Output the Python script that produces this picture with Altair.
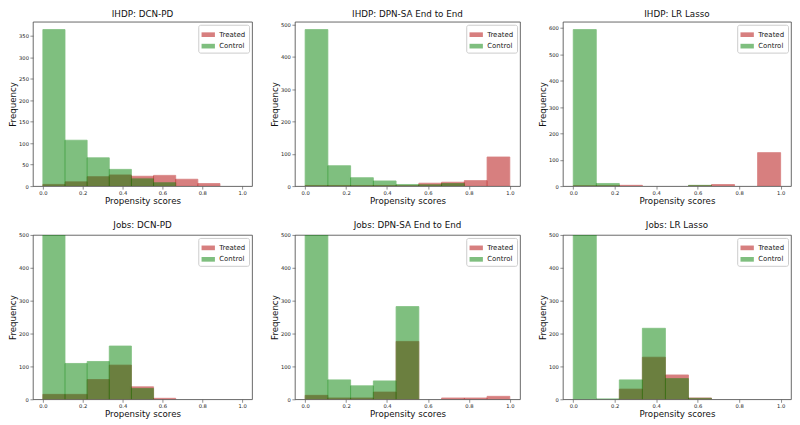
import altair as alt
import pandas as pd

# Histogram bin edges (9 bins on [0, 1])
BIN_EDGES = [0.0, 0.1111, 0.2222, 0.3333, 0.4444, 0.5556, 0.6667, 0.7778, 0.8889, 1.0]
GROUPS = ["Treated", "Control"]
X_TICKS = [0.0, 0.2, 0.4, 0.6, 0.8, 1.0]

# IHDP panels
ihdp_dcn_trt = [4, 10, 22, 26, 23, 25, 16, 6, 0]
ihdp_dcn_ctrl = [365, 107, 66, 39, 17, 8, 0, 0, 0]
ihdp_dpn_trt = [2, 2, 2, 2, 1, 9, 12, 17, 90]
ihdp_dpn_ctrl = [484, 63, 26, 16, 5, 4, 8, 0, 0]
ihdp_lr_trt = [1, 1, 3, 0, 0, 1, 6, 0, 127]
ihdp_lr_ctrl = [594, 10, 0, 0, 0, 3, 0, 0, 0]

# Jobs panels (y axis clipped at 500)
jobs_dcn_trt = [15, 15, 60, 104, 38, 3, 0, 0, 0]
jobs_dcn_ctrl = [1200, 109, 115, 162, 33, 0, 0, 0, 0]
jobs_dpn_trt = [12, 4, 4, 22, 176, 0, 4, 4, 9]
jobs_dpn_ctrl = [1200, 59, 41, 56, 282, 0, 0, 0, 0]
jobs_lr_trt = [0, 0, 31, 128, 74, 4, 0, 0, 0]
jobs_lr_ctrl = [1500, 1, 59, 216, 63, 3, 0, 0, 0]

# y tick labels
yt_ihdp_dcn = [0, 50, 100, 150, 200, 250, 300, 350]
yt_ihdp_dpn = [0, 100, 200, 300, 400, 500]
yt_ihdp_lr = [0, 100, 200, 300, 400, 500, 600]
yt_jobs = [0, 100, 200, 300, 400, 500]

color_scale = alt.Scale(domain=GROUPS, range=["#b00000", "#008000"])


def panel(title, trt, ctrl, ymax, yticks, width, height=165):
    rows = []
    for grp, vals in (("Treated", trt), ("Control", ctrl)):
        for i, v in enumerate(vals):
            if v > 0:
                rows.append({"group": grp, "x0": BIN_EDGES[i], "x1": BIN_EDGES[i + 1],
                             "count": v, "base": 0})
    df = pd.DataFrame(rows)
    base = alt.Chart(df).mark_rect(opacity=0.5, strokeWidth=0.8, clip=True).encode(
        x=alt.X("x0:Q", scale=alt.Scale(domain=[-0.05, 1.05], nice=False, zero=False),
                axis=alt.Axis(values=X_TICKS, format=".1f", title="Propensity scores")),
        x2="x1:Q",
        y=alt.Y("count:Q", scale=alt.Scale(domain=[0, ymax], nice=False),
                axis=alt.Axis(values=yticks, title="Frequency", minExtent=14, maxExtent=14)),
        y2="base:Q",
        color=alt.Color("group:N", scale=color_scale, legend=alt.Legend(title=None)),
        stroke=alt.Stroke("group:N", scale=color_scale, legend=None),
    )
    t = base.transform_filter(alt.datum.group == "Treated")
    c = base.transform_filter(alt.datum.group == "Control")
    return alt.layer(t, c).properties(width=width, height=height, title=title)


def ind(ch):
    return ch.resolve_scale(color="independent", stroke="independent").resolve_legend(color="independent")


p1 = panel("IHDP: DCN-PD", ihdp_dcn_trt, ihdp_dcn_ctrl, 365 * 1.05, yt_ihdp_dcn, 220)
p2 = panel("IHDP: DPN-SA End to End", ihdp_dpn_trt, ihdp_dpn_ctrl, 484 * 1.05, yt_ihdp_dpn, 226)
p3 = panel("IHDP: LR Lasso", ihdp_lr_trt, ihdp_lr_ctrl, 594 * 1.05, yt_ihdp_lr, 229)
p4 = panel("Jobs: DCN-PD", jobs_dcn_trt, jobs_dcn_ctrl, 500, yt_jobs, 220)
p5 = panel("Jobs: DPN-SA End to End", jobs_dpn_trt, jobs_dpn_ctrl, 500, yt_jobs, 226)
p6 = panel("Jobs: LR Lasso", jobs_lr_trt, jobs_lr_ctrl, 500, yt_jobs, 229)

row1 = ind(alt.hconcat(p1, p2, p3, spacing=17))
row2 = ind(alt.hconcat(p4, p5, p6, spacing=17))

chart = ind(alt.vconcat(row1, row2, spacing=14)).properties(
    padding=0, background="white"
).configure_view(
    stroke="#444444", strokeWidth=0.8
).configure_axis(
    grid=False, domain=False,
    labelFont="DejaVu Sans", titleFont="DejaVu Sans",
    labelFontSize=5.2, titleFontSize=8.7, titleFontWeight="normal",
    labelColor="#222222", titleColor="#111111",
    tickSize=3, tickColor="#444444", tickWidth=0.6,
    labelPadding=1.5, titlePadding=1,
).configure_title(
    font="DejaVu Sans", fontSize=8.8, fontWeight="normal", color="#111111", offset=3,
).configure_legend(
    orient="top-right", offset=3, padding=3,
    fillColor="white", strokeColor="#cccccc", cornerRadius=2,
    labelFont="DejaVu Sans", labelFontSize=7, labelColor="#222222",
    symbolType="M-1,-0.35L1,-0.35L1,0.35L-1,0.35Z", symbolSize=180,
    symbolOpacity=0.5, symbolStrokeWidth=0, rowPadding=1.5, labelOffset=4,
)

chart.save("out.html", embed_options={"renderer": "svg", "actions": False})
